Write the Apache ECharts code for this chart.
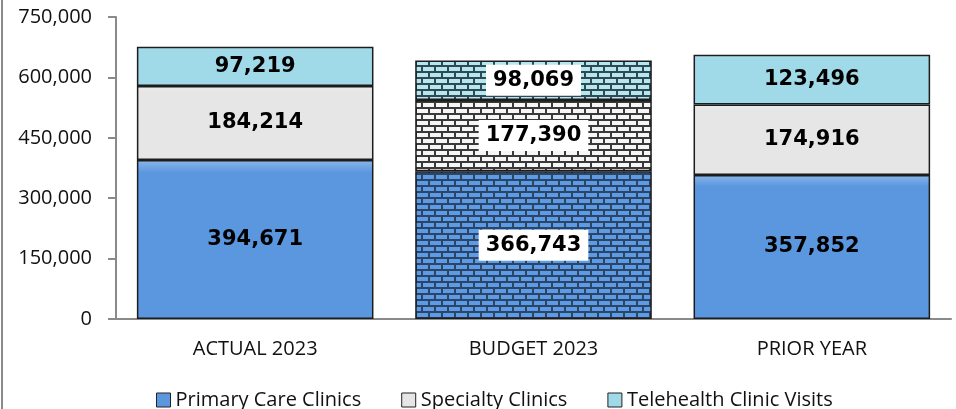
<!DOCTYPE html>
<html>
<head>
<meta charset="utf-8">
<script src="https://cdn.jsdelivr.net/npm/echarts@6/dist/echarts.min.js"></script>
<style>
html, body { margin: 0; padding: 0; background: #fff; }
#chart { width: 956px; height: 409px; }
</style>
</head>
<body>
<div id="chart"></div>
<script>
var categories = ['ACTUAL 2023', 'BUDGET 2023', 'PRIOR YEAR'];
var primaryCare = [394671, 366743, 357852];
var specialty = [184214, 177390, 174916];
var telehealth = [97219, 98069, 123496];
var seriesNames = ['Primary Care Clinics', 'Specialty Clinics', 'Telehealth Clinic Visits'];

var fills = ['#5a97df', '#e6e6e6', '#a0d9e8'];
var bricks = ['#5c9be8', '#f6f6f6', '#b6e7f1'];
var mortar = ['#2d4463', '#3a3a3a', '#2f4a52'];

// brick pattern for the budget column
function brick(i) {
    var c = document.createElement('canvas');
    c.width = 26; c.height = 12;
    var g = c.getContext('2d');
    g.fillStyle = mortar[i];
    g.fillRect(0, 0, 26, 12);
    g.fillStyle = bricks[i];
    g.fillRect(1, 1, 11, 4); g.fillRect(14, 1, 11, 4);
    g.fillRect(0, 7, 5, 4); g.fillRect(7, 7, 11, 4); g.fillRect(20, 7, 6, 4);
    return { image: c, repeat: 'repeat' };
}

function grad(col) {
    return new echarts.graphic.LinearGradient(0, 0, 0, 1, [
        { offset: 0, color: echarts.color.lift(col, 0.3) },
        { offset: 0.08, color: col },
        { offset: 1, color: col }
    ]);
}

function makeSeries(i, values) {
    return {
        name: seriesNames[i],
        type: 'bar',
        stack: 'total',
        barWidth: '85%',
        data: values.map(function (v, k) {
            var d = { value: v };
            if (k === 1) {
                d.itemStyle = { color: brick(i) };
                d.label = { backgroundColor: '#fff', padding: [6, 7, 4, 7] };
            }
            return d;
        }),
        itemStyle: { color: grad(fills[i]), borderColor: '#1c1c1c', borderWidth: 1.5 },
        label: {
            show: true,
            position: 'inside',
            color: '#000',
            fontFamily: 'DejaVu Sans',
            fontWeight: 'bold',
            fontSize: 21,
            formatter: function (p) { return p.value.toLocaleString('en-US'); }
        }
    };
}

var chart = echarts.init(document.getElementById('chart'));
chart.setOption({
    animation: false,
    grid: { left: 116, right: 5, top: 17, bottom: 90 },
    legend: {
        top: 385,
        left: 151,
        itemWidth: 14,
        itemHeight: 14,
        itemGap: 40,
        icon: 'rect',
        textStyle: { fontFamily: 'Open Sans', fontSize: 20, color: '#111' },
        data: seriesNames.map(function (n, i) {
            return { name: n, itemStyle: { color: grad(fills[i]), borderColor: '#222', borderWidth: 1 } };
        })
    },
    xAxis: {
        type: 'category',
        data: categories,
        axisLine: { lineStyle: { color: '#8a8a8a', width: 2 } },
        axisTick: { show: false },
        axisLabel: { color: '#111', fontFamily: 'Open Sans', fontSize: 20, margin: 20 }
    },
    yAxis: {
        type: 'value',
        min: 0,
        max: 750000,
        interval: 150000,
        splitLine: { show: false },
        axisLine: { show: true, lineStyle: { color: '#8a8a8a', width: 2 } },
        axisTick: { show: true, length: 8, lineStyle: { color: '#8a8a8a', width: 2 } },
        axisLabel: {
            color: '#111', fontFamily: 'Open Sans', fontSize: 20, margin: 24,
            formatter: function (v) { return v.toLocaleString('en-US'); }
        }
    },
    graphic: [{
        type: 'line',
        shape: { x1: 2, y1: 0, x2: 2, y2: 409 },
        style: { stroke: '#8a8a8a', lineWidth: 2 }
    }],
    series: [
        makeSeries(0, primaryCare),
        makeSeries(1, specialty),
        makeSeries(2, telehealth)
    ]
});
</script>
</body>
</html>
